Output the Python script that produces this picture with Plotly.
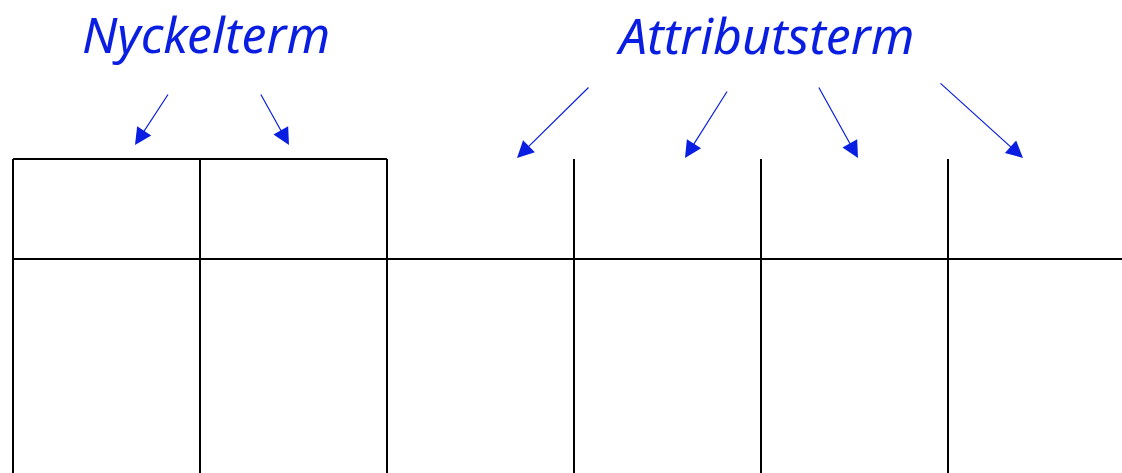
import plotly.graph_objects as go

# Diagram data (pixel-space coordinates on a 1122x473 canvas)
column_x = [13, 200, 387, 574, 761, 948]
key_columns = [13, 200, 387]
header_top_y = 159
header_bottom_y = 259
bottom_y = 473
right_edge_x = 1122

labels = ["Nyckelterm", "Attributsterm"]
label_x = [206, 765]
label_y = [34, 35]

arrow_start_x = [169, 260, 590, 728, 818, 939]
arrow_start_y = [93, 93, 86, 90, 86, 82]
arrow_tip_x = [135, 289, 517, 685, 858, 1023]
arrow_tip_y = [145, 145, 158, 158, 158, 158]

BLUE = "rgb(10,30,225)"

fig = go.Figure()

xs, ys = [], []
# vertical column lines
for cx in column_x:
    xs += [cx, cx, None]
    ys += [header_top_y, bottom_y, None]
# top border over key columns
xs += [key_columns[0], key_columns[-1], None]
ys += [header_top_y, header_top_y, None]
# header bottom line across
xs += [column_x[0], right_edge_x, None]
ys += [header_bottom_y, header_bottom_y, None]

fig.add_trace(go.Scatter(x=xs, y=ys, mode="lines",
                         line=dict(color="black", width=2),
                         hoverinfo="skip", showlegend=False))

for sx, sy, tx, ty in zip(arrow_start_x, arrow_start_y, arrow_tip_x, arrow_tip_y):
    fig.add_annotation(x=tx, y=ty, ax=sx, ay=sy, xref="x", yref="y",
                       axref="x", ayref="y", text="", showarrow=True,
                       arrowhead=2, arrowsize=2.8, arrowwidth=1.2,
                       arrowcolor=BLUE, standoff=0, startstandoff=0)

for t, lx, ly in zip(labels, label_x, label_y):
    fig.add_annotation(x=lx, y=ly, xref="x", yref="y", text="<i>%s</i>" % t,
                       showarrow=False,
                       font=dict(family="Noto Sans", size=50, color=BLUE),
                       xanchor="center", yanchor="middle")

fig.update_xaxes(range=[0, 1122], visible=False, fixedrange=True)
fig.update_yaxes(range=[473, 0], visible=False, fixedrange=True)
fig.update_layout(width=1122, height=473, margin=dict(l=0, r=0, t=0, b=0),
                  plot_bgcolor="white", paper_bgcolor="white")

fig.write_html("out.html", config={"displayModeBar": False, "staticPlot": True},
               post_script="document.body.style.margin='0';document.body.style.overflow='hidden';")
